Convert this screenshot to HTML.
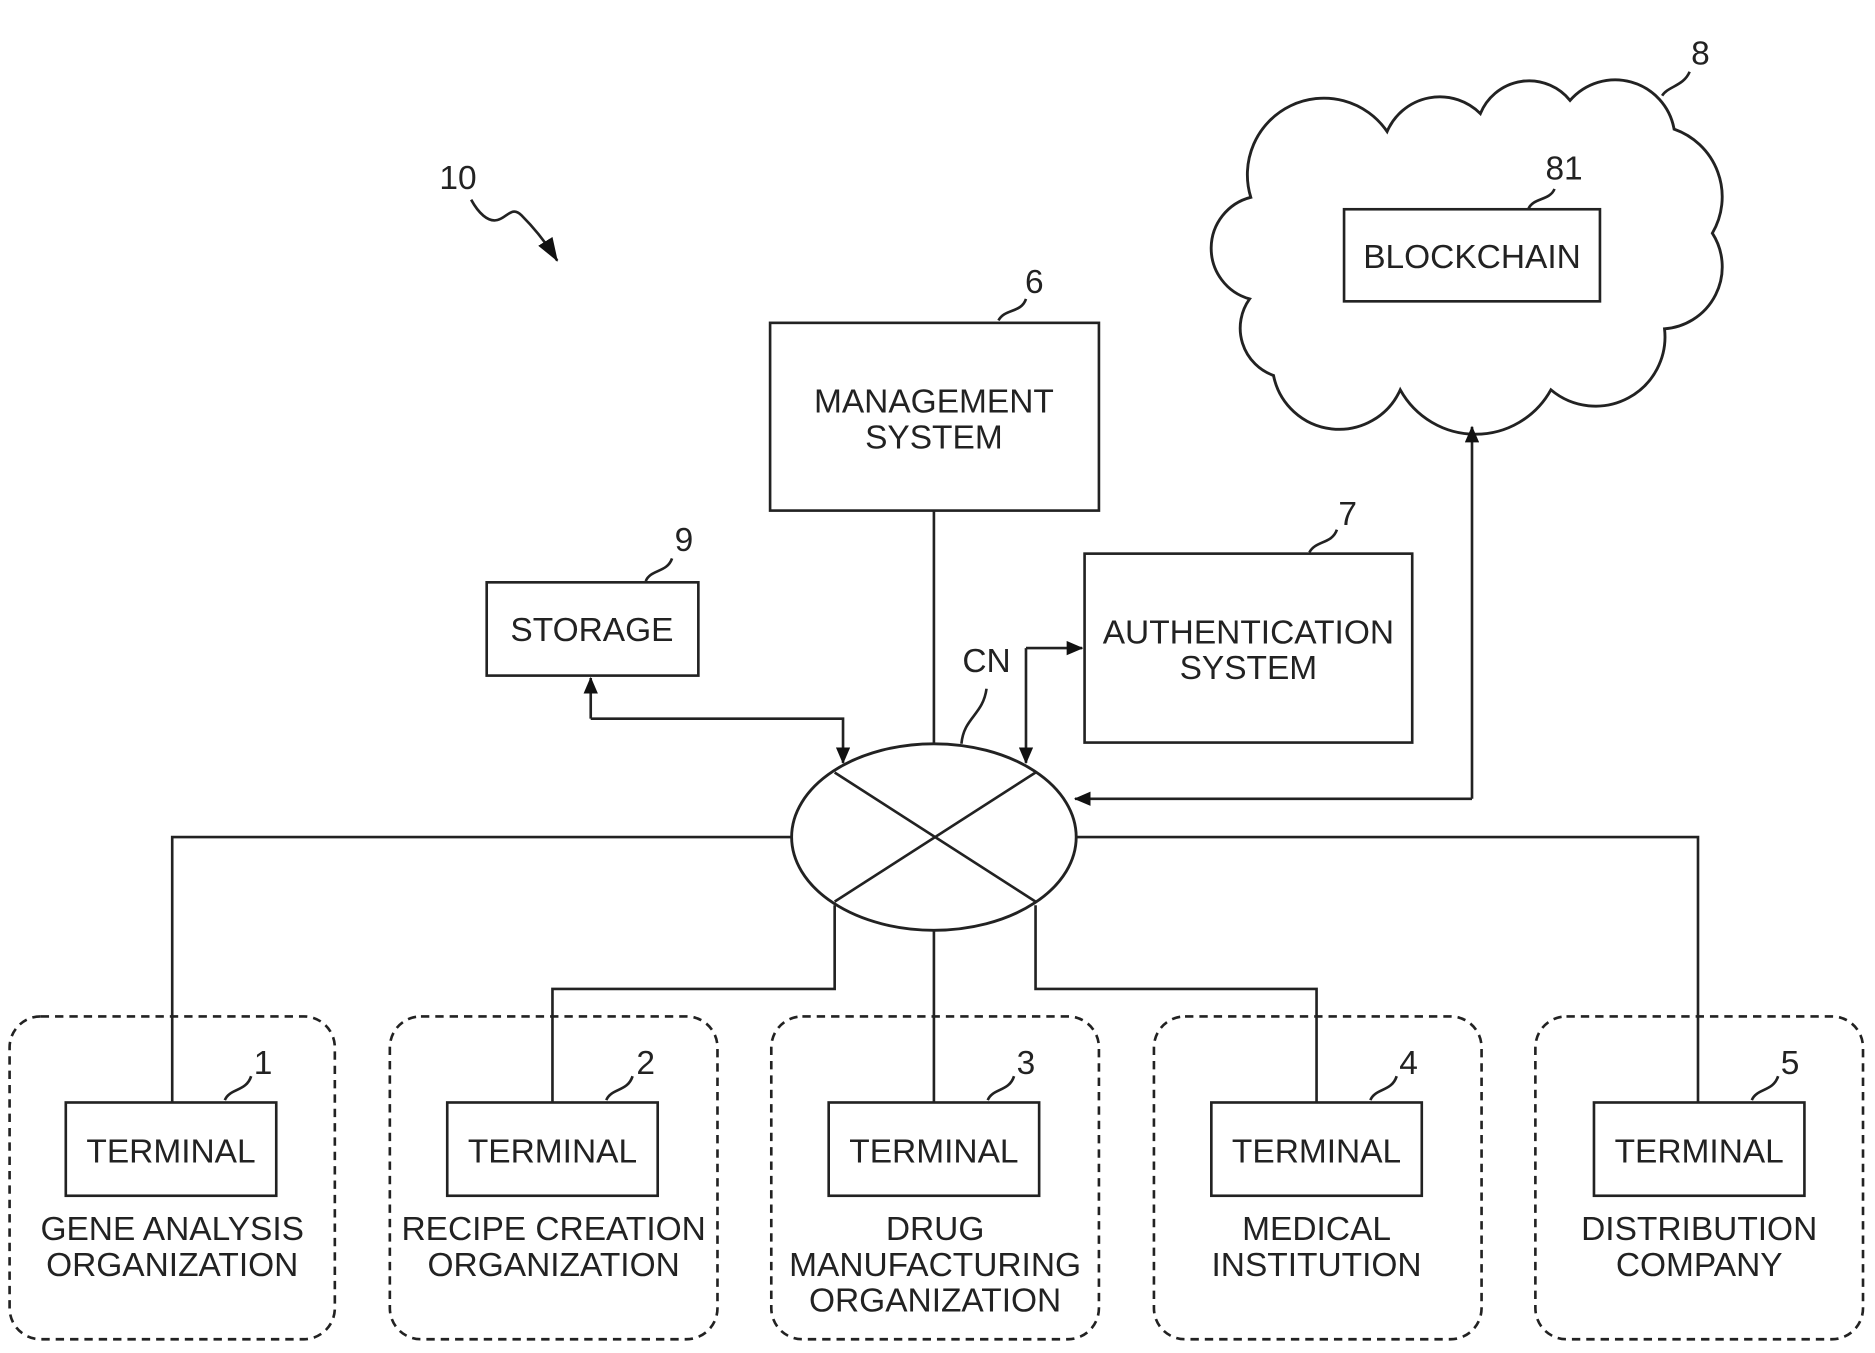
<!DOCTYPE html>
<html><head><meta charset="utf-8"><style>
html,body{margin:0;padding:0;background:#fff;}
svg{display:block;}
text{font-family:"Liberation Sans",sans-serif;fill:#222;font-size:28px;}
</style></head><body>
<svg width="1875" height="1353" viewBox="0 0 1568 1131.5" xmlns="http://www.w3.org/2000/svg">
<defs>
<marker id="ah" markerWidth="14" markerHeight="12" refX="13" refY="6" orient="auto" markerUnits="userSpaceOnUse">
<path d="M0,0 L14,6 L0,12 Z" fill="#111"/></marker>
<marker id="ahb" markerWidth="20" markerHeight="14" refX="19" refY="7" orient="auto" markerUnits="userSpaceOnUse">
<path d="M0,0 L20,7 L0,14 Z" fill="#111"/></marker>
</defs>
<g fill="none" stroke="#222" stroke-width="2.2">
<path d="M394,167 C400,178 408,186 416,184 C424,182 428,172 436,180 C448,192 458,205 466,218" marker-end="url(#ahb)"/>
<path d="M1045,250 A44,44 0 0 1 1046,165 A64,64 0 0 1 1160,110 A48,48 0 0 1 1238,95 A44,44 0 0 1 1313,84 A50,50 0 0 1 1400,108 A60,60 0 0 1 1432,195 A52,52 0 0 1 1392,275 A58,58 0 0 1 1297,326 A72,72 0 0 1 1171,326 A56,56 0 0 1 1065,314 A42,42 0 0 1 1045,250 Z" stroke-width="2.4"/>
<path d="M1390,80 C1395,72 1408,72 1413,60"/>
<rect x="1124" y="175" width="214" height="77"/>
<path d="M1278,175 C1282,165 1296,168 1300,158"/>
<rect x="644" y="270" width="275" height="157"/>
<path d="M835,268 C840,258 854,262 858,250"/>
<line x1="781" y1="427" x2="781" y2="622"/>
<rect x="407" y="487" width="177" height="78"/>
<path d="M540,486 C544,476 558,479 562,467"/>
<path d="M494,601 L494,567" marker-end="url(#ah)"/>
<path d="M494,601 L705,601 L705,638" marker-end="url(#ah)"/>
<rect x="907" y="463" width="274" height="158"/>
<path d="M1095,462 C1100,452 1114,455 1118,443"/>
<path d="M858,542 L858,638" marker-end="url(#ah)"/>
<path d="M858,542 L905,542" marker-end="url(#ah)"/>
<path d="M1231,668 L1231,357" marker-end="url(#ah)"/>
<path d="M1231,668 L899,668" marker-end="url(#ah)"/>
<path d="M804,622 C806,600 822,598 825,576"/>
<ellipse cx="781" cy="700" rx="119" ry="78" stroke-width="2.4"/>
<line x1="698" y1="646" x2="866" y2="754"/>
<line x1="866" y1="646" x2="698" y2="754"/>
<path d="M662,700 L144,700 L144,922"/>
<path d="M900,700 L1420,700 L1420,922"/>
<path d="M698,757 L698,827 L462,827 L462,922"/>
<path d="M866,757 L866,827 L1101,827 L1101,922"/>
<line x1="781" y1="778" x2="781" y2="922"/>
<g stroke-dasharray="7,5">
<rect x="8" y="850" width="272" height="270" rx="26"/>
<rect x="326" y="850" width="274" height="270" rx="26"/>
<rect x="645" y="850" width="274" height="270" rx="26"/>
<rect x="965" y="850" width="274" height="270" rx="26"/>
<rect x="1284" y="850" width="274" height="270" rx="26"/>
</g>
<rect x="55" y="922" width="176" height="78"/>
<rect x="374" y="922" width="176" height="78"/>
<rect x="693" y="922" width="176" height="78"/>
<rect x="1013" y="922" width="176" height="78"/>
<rect x="1333" y="922" width="176" height="78"/>
<path d="M188,920 C192,910 206,913 210,900"/>
<path d="M507,920 C511,910 525,913 529,900"/>
<path d="M826,920 C830,910 844,913 848,900"/>
<path d="M1146,920 C1150,910 1164,913 1168,900"/>
<path d="M1465,920 C1469,910 1483,913 1487,900"/>
</g>
<g text-anchor="middle">
<text x="383" y="158">10</text>
<text x="1422" y="54">8</text>
<text x="1308" y="150">81</text>
<text x="1231" y="224">BLOCKCHAIN</text>
<text x="865" y="245">6</text>
<text x="781" y="345">MANAGEMENT</text>
<text x="781" y="375">SYSTEM</text>
<text x="572" y="461">9</text>
<text x="495" y="536">STORAGE</text>
<text x="1127" y="439">7</text>
<text x="1044" y="538">AUTHENTICATION</text>
<text x="1044" y="568">SYSTEM</text>
<text x="825" y="562">CN</text>
<text x="220" y="898">1</text>
<text x="540" y="898">2</text>
<text x="858" y="898">3</text>
<text x="1178" y="898">4</text>
<text x="1497" y="898">5</text>
<text x="143" y="972">TERMINAL</text>
<text x="462" y="972">TERMINAL</text>
<text x="781" y="972">TERMINAL</text>
<text x="1101" y="972">TERMINAL</text>
<text x="1421" y="972">TERMINAL</text>
<text x="144" y="1037">GENE ANALYSIS</text>
<text x="144" y="1067">ORGANIZATION</text>
<text x="463" y="1037">RECIPE CREATION</text>
<text x="463" y="1067">ORGANIZATION</text>
<text x="782" y="1037">DRUG</text>
<text x="782" y="1067">MANUFACTURING</text>
<text x="782" y="1097">ORGANIZATION</text>
<text x="1101" y="1037">MEDICAL</text>
<text x="1101" y="1067">INSTITUTION</text>
<text x="1421" y="1037">DISTRIBUTION</text>
<text x="1421" y="1067">COMPANY</text>
</g>
</svg>
</body></html>
